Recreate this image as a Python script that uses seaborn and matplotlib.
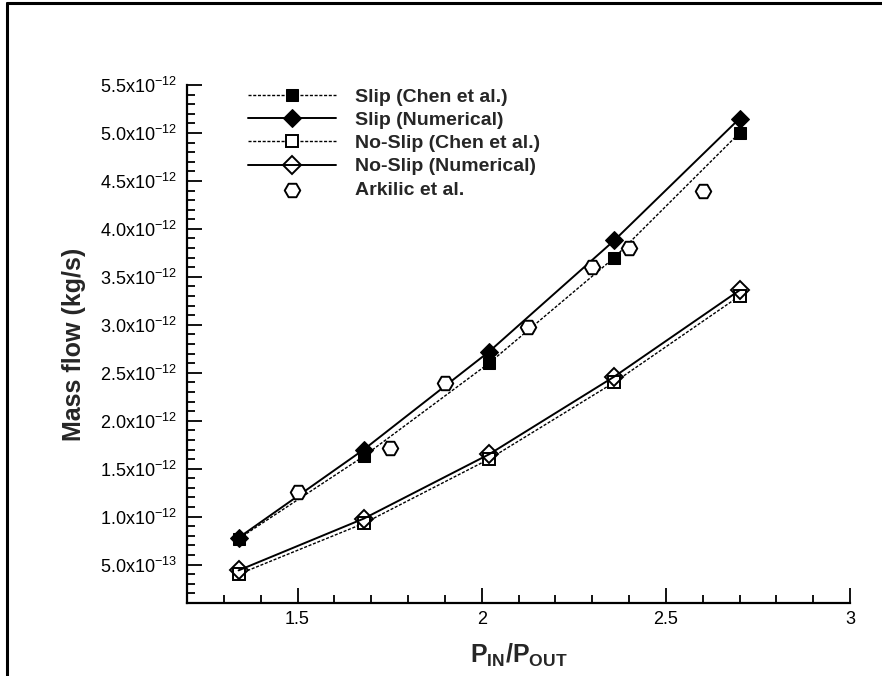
import numpy as np
import pandas as pd
import matplotlib
matplotlib.use("Agg")
import matplotlib.pyplot as plt
from matplotlib.ticker import MultipleLocator, FuncFormatter
from matplotlib.lines import Line2D
import seaborn as sns

# Pressure ratio for the model / numerical series
pressure_ratio = [1.34, 1.68, 2.02, 2.36, 2.70]

# Mass flow rate (kg/s)
slip_chen = [0.77e-12, 1.63e-12, 2.60e-12, 3.70e-12, 5.00e-12]
slip_numerical = [0.78e-12, 1.70e-12, 2.72e-12, 3.88e-12, 5.15e-12]
noslip_chen = [0.40e-12, 0.93e-12, 1.60e-12, 2.40e-12, 3.30e-12]
noslip_numerical = [0.44e-12, 0.98e-12, 1.65e-12, 2.46e-12, 3.36e-12]

# Experimental data (Arkilic et al.)
arkilic_ratio = [1.50, 1.75, 1.90, 2.125, 2.30, 2.40, 2.60]
arkilic_flow = [1.26e-12, 1.72e-12, 2.39e-12, 2.98e-12, 3.60e-12, 3.80e-12, 4.40e-12]

x_ticks = [1.5, 2.0, 2.5, 3.0]

sns.set_style("ticks")
plt.rcParams["font.family"] = ["Liberation Sans", "DejaVu Sans"]
plt.rcParams["mathtext.fontset"] = "custom"
plt.rcParams["mathtext.rm"] = "Liberation Sans"
plt.rcParams["mathtext.it"] = "Liberation Sans:italic"
plt.rcParams["mathtext.bf"] = "Liberation Sans:bold"
plt.rcParams["mathtext.default"] = "regular"

fig = plt.figure(figsize=(8.82, 6.76), dpi=100)
ax = fig.add_axes([187 / 882, 1 - 603 / 676, (850 - 187) / 882, (603 - 85) / 676])

dotted = (0, (2.2, 1.2))

sns.lineplot(x=pressure_ratio, y=slip_chen, ax=ax, color="black", lw=1.0,
             linestyle=dotted, marker="s", markersize=9, markerfacecolor="black",
             markeredgecolor="black", label="Slip (Chen et al.)")
sns.lineplot(x=pressure_ratio, y=slip_numerical, ax=ax, color="black", lw=1.4,
             marker="D", markersize=9, markerfacecolor="black",
             markeredgecolor="black", label="Slip (Numerical)")
sns.lineplot(x=pressure_ratio, y=noslip_chen, ax=ax, color="black", lw=1.0,
             linestyle=dotted, marker="s", markersize=9, markerfacecolor="white",
             markeredgecolor="black", markeredgewidth=1.4, label="No-Slip (Chen et al.)")
sns.lineplot(x=pressure_ratio, y=noslip_numerical, ax=ax, color="black", lw=1.4,
             marker="D", markersize=9.5, markerfacecolor="none",
             markeredgecolor="black", markeredgewidth=1.4, label="No-Slip (Numerical)")
sns.scatterplot(x=arkilic_ratio, y=arkilic_flow, ax=ax, marker="H", s=125,
                facecolor="white", edgecolor="black", linewidth=1.4,
                label="Arkilic et al.", zorder=5)

ax.set_xlim(1.2, 3.0)
ax.set_ylim(1.0e-13, 5.5e-12)

ax.xaxis.set_major_locator(MultipleLocator(0.5))
ax.xaxis.set_minor_locator(MultipleLocator(0.1))
ax.yaxis.set_major_locator(MultipleLocator(5e-13))
ax.yaxis.set_minor_locator(MultipleLocator(1e-13))
ax.set_xticks(x_ticks)
ax.xaxis.set_major_formatter(FuncFormatter(lambda v, p: f"{v:g}"))


def sci_label(v, pos):
    if v <= 0:
        return ""
    exp = int(np.floor(np.log10(v) + 1e-9))
    mant = v / 10 ** exp
    return f"{mant:.1f}x10$^{{{exp}}}$"


ax.yaxis.set_major_formatter(FuncFormatter(sci_label))

for side in ("top", "right"):
    ax.spines[side].set_visible(False)
for side in ("left", "bottom"):
    ax.spines[side].set_linewidth(1.6)
    ax.spines[side].set_color("black")

ax.tick_params(which="major", direction="in", length=11, width=1.3,
               labelsize=13, colors="black", pad=6)
ax.tick_params(which="minor", direction="in", length=6, width=1.3, colors="black")
ax.tick_params(axis="y", which="major", pad=7)

ax.set_xlabel(r"$\mathbf{P_{IN}/P_{OUT}}$", fontsize=18, labelpad=10)
ax.set_ylabel("Mass flow (kg/s)", fontsize=18, fontweight="bold", labelpad=10)

leg = ax.legend(loc="upper left", bbox_to_anchor=(248 / 882, 1 - 88 / 676),
                bbox_transform=fig.transFigure, frameon=False,
                prop={"weight": "bold", "size": 14}, handlelength=4.5,
                handletextpad=1.0, labelspacing=0.29, borderpad=0, borderaxespad=0,
                numpoints=1, scatterpoints=1)

# Outer frame around the figure
fig.add_artist(Line2D([7 / 882, 7 / 882], [0, 1 - 3 / 676], transform=fig.transFigure,
                      color="black", lw=2.2))
fig.add_artist(Line2D([7 / 882, 1], [1 - 3 / 676, 1 - 3 / 676], transform=fig.transFigure,
                      color="black", lw=2.2))

fig.savefig("out.png", dpi=100)
